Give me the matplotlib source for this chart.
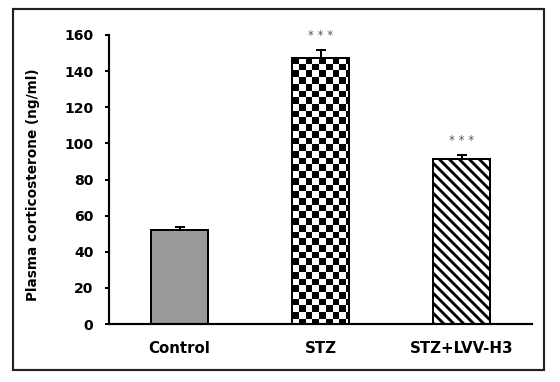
import numpy as np
import matplotlib
matplotlib.use("Agg")
import matplotlib.pyplot as plt
from matplotlib.patches import Rectangle

# data
groups = ["Control", "STZ", "STZ+LVV-H3"]
means = [52.0, 147.5, 91.4]
sems = [1.9, 4.1, 2.3]
signif = ["", "* * *", "* * *"]

DPI = 120
plt.rcParams['font.family'] = 'DejaVu Sans'
plt.rcParams['font.weight'] = 'bold'
plt.rcParams['hatch.linewidth'] = 1.7

fig = plt.figure(figsize=(560 / DPI, 382 / DPI), dpi=DPI)
ax = fig.add_axes([109 / 560, 1 - 324 / 382, 423 / 560, 289 / 382])

x = np.arange(len(groups))
bars = ax.bar(x, means, width=0.4, color=["#999999", "white", "white"],
              edgecolor="black", linewidth=1.2, zorder=2)
bars[2].set_hatch("\\\\\\\\")

ax.errorbar(x, means, yerr=[np.zeros(len(sems)), sems], fmt="none",
            ecolor="black", elinewidth=1.2, capsize=3, capthick=1.2, zorder=1)

ax.set_xlim(-0.5, 2.5)
ax.set_ylim(0, 160)

# checkerboard fill for the STZ bar, clipped to the bar
b = bars[1]
cell = 6.7  # px
p0 = ax.transData.transform((b.get_x(), 0))
p1 = ax.transData.transform((b.get_x() + b.get_width(), b.get_height()))
nx = int(np.ceil(abs(p1[0] - p0[0]) / cell))
ny = int(np.ceil(abs(p1[1] - p0[1]) / cell))
yy, xx = np.indices((ny, nx))
board = (xx + yy) % 2
x_right = b.get_x() + nx * cell * b.get_width() / abs(p1[0] - p0[0])
y_bot = b.get_height() - ny * cell * b.get_height() / abs(p1[1] - p0[1])
im = ax.imshow(board, cmap="gray", extent=[b.get_x(), x_right, y_bot, b.get_height()],
               origin="upper", interpolation="nearest", aspect="auto", zorder=1.5)
im.set_clip_path(b)
b.set_facecolor("none")
b.set_zorder(3)
ax.set_xlim(-0.5, 2.5)
ax.set_ylim(0, 160)

for xi, m, s, t in zip(x, means, sems, signif):
    if t:
        ax.text(xi, m + s + 6, t, ha="center", va="baseline",
                fontsize=7, color="#555555", fontweight="normal", clip_on=False)

ax.set_yticks(np.arange(0, 161, 20))
ax.set_xticks(x)
ax.set_xticklabels(groups, fontsize=9, fontweight="bold")
ax.tick_params(axis="x", length=0, pad=10)
ax.tick_params(axis="y", direction="out", length=2.4, width=1.2, pad=7, labelsize=8.4)
for lbl in ax.get_yticklabels():
    lbl.set_fontweight("bold")

ax.set_ylabel("Plasma corticosterone (ng/ml)", fontsize=8.2, fontweight="bold")
ax.yaxis.set_label_coords(-0.163, 0.481)

for side in ["top", "right"]:
    ax.spines[side].set_visible(False)
for side in ["left", "bottom"]:
    ax.spines[side].set_linewidth(1.3)

# outer frame round the whole chart
fig.patches.append(Rectangle((13 / 560, 1 - 370 / 382), 531 / 560, 361.5 / 382,
                             transform=fig.transFigure, fill=False,
                             edgecolor="#222222", linewidth=1.3))

fig.savefig("out.png", dpi=DPI)
